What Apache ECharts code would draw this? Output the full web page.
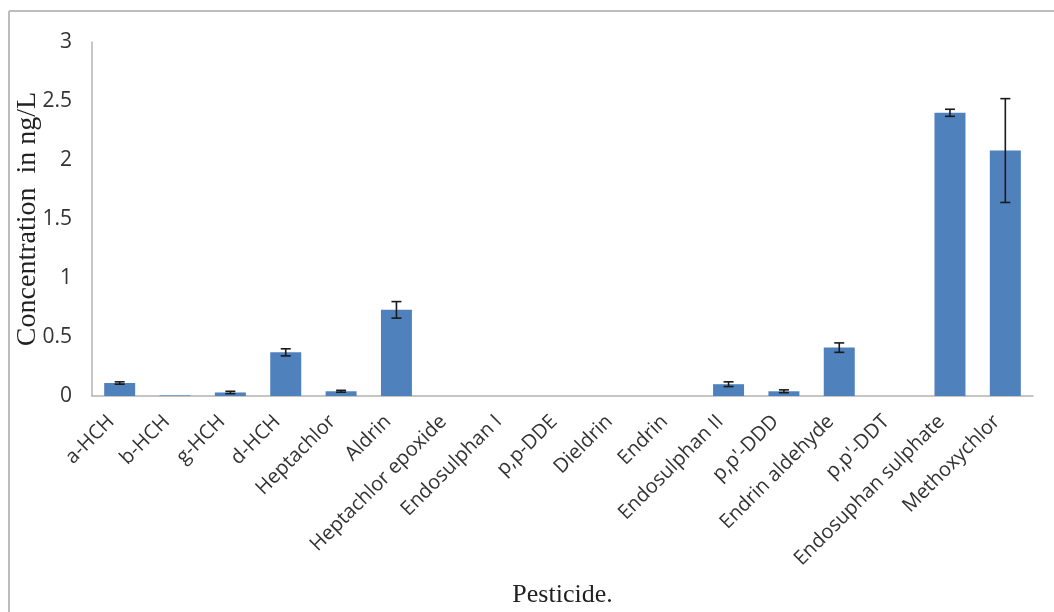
<!DOCTYPE html>
<html lang="en">
  <head>
    <meta charset="UTF-8" />
    <title>Pesticide concentrations</title>
    <script src="https://cdn.jsdelivr.net/npm/echarts@6.0.0/dist/echarts.min.js"></script>
    <style>
      html, body { margin: 0; padding: 0; background: #fff; }
    </style>
  </head>
  <body>
    <div id="main" style="width: 1054px; height: 612px"></div>
    <script type="text/javascript">
      // values
      const pesticides = ['a-HCH', 'b-HCH', 'g-HCH', 'd-HCH', 'Heptachlor', 'Aldrin',
        'Heptachlor epoxide', 'Endosulphan I', 'p,p-DDE', 'Dieldrin', 'Endrin',
        'Endosulphan II', "p,p'-DDD", 'Endrin aldehyde', "p,p'-DDT",
        'Endosuphan sulphate', 'Methoxychlor'];
      const concentration = [0.11, 0.005, 0.03, 0.37, 0.04, 0.73, 0, 0, 0, 0, 0,
        0.10, 0.04, 0.41, 0, 2.40, 2.08];
      const errors = [0.01, 0, 0.01, 0.03, 0.008, 0.07, 0, 0, 0, 0, 0,
        0.02, 0.012, 0.04, 0, 0.03, 0.44];
      const yTicks = [0, 0.5, 1, 1.5, 2, 2.5, 3];

      let myChart = echarts.init(document.getElementById('main'));

      let errData = concentration.map((v, i) => [i, v - errors[i], v + errors[i]]);

      let options = {
        backgroundColor: '#fff',
        animation: false,
        graphic: [
          // partial frame like the cropped original
          { type: 'line', shape: { x1: 9, y1: 11, x2: 9, y2: 612 }, style: { stroke: '#bdbdbd', lineWidth: 2 } },
          { type: 'line', shape: { x1: 9, y1: 11, x2: 1054, y2: 11 }, style: { stroke: '#bdbdbd', lineWidth: 2 } }
        ],
        grid: { left: 92, right: 21, top: 42, bottom: 216, outerBoundsMode: 'none' },
        xAxis: {
          type: 'category',
          data: pesticides,
          name: 'Pesticide.',
          nameLocation: 'middle',
          nameGap: 186,
          nameMoveOverlap: false,
          nameTextStyle: { fontFamily: 'Liberation Serif', fontSize: 26, color: '#222' },
          axisLine: { lineStyle: { color: '#b3b3b3', width: 1.5 } },
          axisTick: { show: false },
          axisLabel: {
            rotate: 45,
            interval: 0,
            margin: 14,
            padding: [0, 12, 0, 0],
            fontFamily: 'Open Sans',
            fontSize: 20,
            color: '#333'
          }
        },
        yAxis: {
          type: 'value',
          min: 0,
          max: yTicks[yTicks.length - 1],
          interval: 0.5,
          name: 'Concentration  in ng/L',
          nameLocation: 'middle',
          nameGap: 50,
          nameMoveOverlap: false,
          nameTextStyle: { fontFamily: 'Liberation Serif', fontSize: 28, color: '#222' },
          axisLine: { show: true, lineStyle: { color: '#b3b3b3', width: 1.5 } },
          axisTick: { show: false },
          splitLine: { show: false },
          axisLabel: { fontFamily: 'Open Sans', fontSize: 21, color: '#333', margin: 20 }
        },
        series: [
          {
            type: 'bar',
            data: concentration,
            barCategoryGap: '44%',
            itemStyle: { color: '#4f81bd' }
          },
          {
            type: 'custom',
            data: errData,
            z: 10,
            renderItem: function (params, api) {
              if (api.value(2) - api.value(1) <= 0) return null;
              const lo = api.coord([api.value(0), api.value(1)]);
              const hi = api.coord([api.value(0), api.value(2)]);
              const hw = 5;
              const st = { stroke: '#1a1a1a', lineWidth: 1.6 };
              return {
                type: 'group',
                children: [
                  { type: 'line', shape: { x1: hi[0], y1: hi[1], x2: lo[0], y2: lo[1] }, style: st },
                  { type: 'line', shape: { x1: hi[0] - hw, y1: hi[1], x2: hi[0] + hw, y2: hi[1] }, style: st },
                  { type: 'line', shape: { x1: lo[0] - hw, y1: lo[1], x2: lo[0] + hw, y2: lo[1] }, style: st }
                ]
              };
            }
          }
        ]
      };

      myChart.setOption(options);
    </script>
  </body>
</html>
